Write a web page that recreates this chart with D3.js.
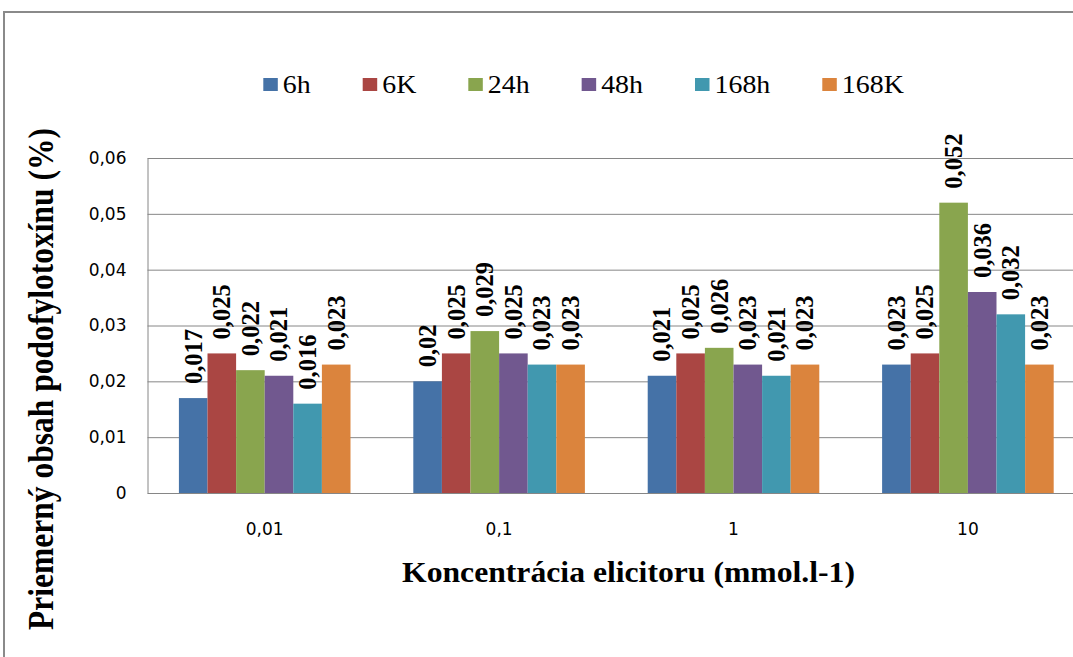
<!DOCTYPE html>
<html>
<head>
<meta charset="utf-8">
<script src="https://cdn.jsdelivr.net/npm/d3@7/dist/d3.min.js"></script>
<style>
  html, body { margin: 0; padding: 0; background: #fff; }
  svg { display: block; }
</style>
</head>
<body>
<svg id="chart" width="1073" height="657"></svg>
<script>
// Concentrations of elicitor (x categories)
const categories = ["0,01", "0,1", "1", "10"];
// Series (sampling times)
const seriesNames = ["6h", "6K", "24h", "48h", "168h", "168K"];
const seriesColors = ["#4572A7", "#AA4643", "#89A54E", "#71588F", "#4198AF", "#DB843D"];
// Mean podophyllotoxin content (%) per concentration
const values6h   = [0.017, 0.020, 0.021, 0.023];
const values6K   = [0.025, 0.025, 0.025, 0.025];
const values24h  = [0.022, 0.029, 0.026, 0.052];
const values48h  = [0.021, 0.025, 0.023, 0.036];
const values168h = [0.016, 0.023, 0.021, 0.032];
const values168K = [0.023, 0.023, 0.023, 0.023];
const yTicks = [0, 0.01, 0.02, 0.03, 0.04, 0.05, 0.06];

const seriesValues = [values6h, values6K, values24h, values48h, values168h, values168K];

const yTitle = "Priemerný obsah podofylotoxínu (%)";
const xTitle = "Koncentrácia elicitoru (mmol.l-1)";

// Slovak number formatting (decimal comma)
const sk = d3.formatLocale({ decimal: ",", thousands: " ", grouping: [3], currency: ["", " €"] });
const fmt = sk.format("~g");

const svg = d3.select("#chart");
const W = 1073, H = 657;
const plot = { left: 147.5, top: 158, bottom: 493 };
const step = 234.4;
const plotRight = plot.left + categories.length * step;

const serif = "'Liberation Serif', 'Times New Roman', serif";
const sans = "'DejaVu Sans', 'Open Sans', sans-serif";

// Outer chart frame
svg.append("rect")
  .attr("x", 4).attr("y", 12)
  .attr("width", W + 20).attr("height", H + 20)
  .attr("fill", "none")
  .attr("stroke", "#8a8a8a")
  .attr("stroke-width", 2);

const x0 = d3.scaleBand()
  .domain(categories)
  .range([plot.left, plotRight])
  .paddingInner(0.268)
  .paddingOuter(0.134);

const x1 = d3.scaleBand()
  .domain(seriesNames)
  .range([0, x0.bandwidth()]);

const y = d3.scaleLinear()
  .domain([0, 0.06])
  .range([plot.bottom, plot.top]);

// Horizontal gridlines
const grid = svg.append("g")
  .attr("transform", `translate(${plot.left},0)`)
  .call(d3.axisLeft(y).tickValues(yTicks).tickSize(-(plotRight - plot.left)).tickFormat(""));
grid.select(".domain").remove();
grid.selectAll(".tick line").attr("stroke", "#868686").attr("stroke-width", 1);

// Y axis with labels
const yAxis = svg.append("g")
  .attr("transform", `translate(${plot.left},0)`)
  .call(d3.axisLeft(y).tickValues(yTicks).tickSize(0).tickSizeOuter(0).tickPadding(21).tickFormat(fmt));
yAxis.select(".domain").attr("stroke", "#868686");
yAxis.selectAll("text")
  .attr("font-family", sans)
  .attr("font-size", 17)
  .attr("fill", "#000");

// Bars
const groups = svg.append("g").selectAll("g")
  .data(categories)
  .join("g")
  .attr("transform", d => `translate(${x0(d)},0)`);

groups.selectAll("rect")
  .data((c, ci) => seriesNames.map((s, si) => ({ s, si, v: seriesValues[si][ci] })))
  .join("rect")
  .attr("x", d => x1(d.s))
  .attr("y", d => y(d.v))
  .attr("width", x1.bandwidth())
  .attr("height", d => y(0) - y(d.v))
  .attr("fill", d => seriesColors[d.si]);

// Value labels, rotated above each bar
groups.selectAll("text")
  .data((c, ci) => seriesNames.map((s, si) => ({ s, si, v: seriesValues[si][ci] })))
  .join("text")
  .attr("transform", d => `translate(${x1(d.s) + x1.bandwidth() / 2},${y(d.v) - 14}) rotate(-90)`)
  .attr("dy", "0.34em")
  .attr("font-family", serif)
  .attr("font-weight", "bold")
  .attr("font-size", 24.5)
  .attr("fill", "#000")
  .text(d => fmt(d.v));

// X axis
const xAxis = svg.append("g")
  .attr("transform", `translate(0,${plot.bottom})`)
  .call(d3.axisBottom(x0).tickSize(0).tickSizeOuter(0).tickPadding(30));
xAxis.select(".domain").attr("stroke", "#868686");
xAxis.selectAll("text")
  .attr("font-family", sans)
  .attr("font-size", 17)
  .attr("fill", "#000");

// Axis titles
svg.append("text")
  .attr("x", 402).attr("y", 582)
  .attr("font-family", serif)
  .attr("font-weight", "bold")
  .attr("font-size", 28.5)
  .attr("textLength", 453)
  .attr("lengthAdjust", "spacingAndGlyphs")
  .attr("fill", "#000")
  .text(xTitle);

svg.append("text")
  .attr("transform", "translate(53,379) rotate(-90)")
  .attr("text-anchor", "middle")
  .attr("font-family", serif)
  .attr("font-weight", "bold")
  .attr("font-size", 36)
  .attr("textLength", 502)
  .attr("lengthAdjust", "spacingAndGlyphs")
  .attr("fill", "#000")
  .text(yTitle);

// Legend
const legend = svg.append("g");
let lx = 263.3;
seriesNames.forEach((name, i) => {
  legend.append("rect")
    .attr("x", lx).attr("y", 78)
    .attr("width", 14.5).attr("height", 13)
    .attr("fill", seriesColors[i]);
  const t = legend.append("text")
    .attr("x", lx + 19.5).attr("y", 93)
    .attr("font-family", serif)
    .attr("font-size", 24.7)
    .attr("fill", "#000")
    .text(name);
  const natural = t.node().getComputedTextLength();
  const wide = natural * 1.13;
  t.attr("textLength", wide).attr("lengthAdjust", "spacingAndGlyphs");
  lx += 19.5 + wide + 52;
});
</script>
</body>
</html>
